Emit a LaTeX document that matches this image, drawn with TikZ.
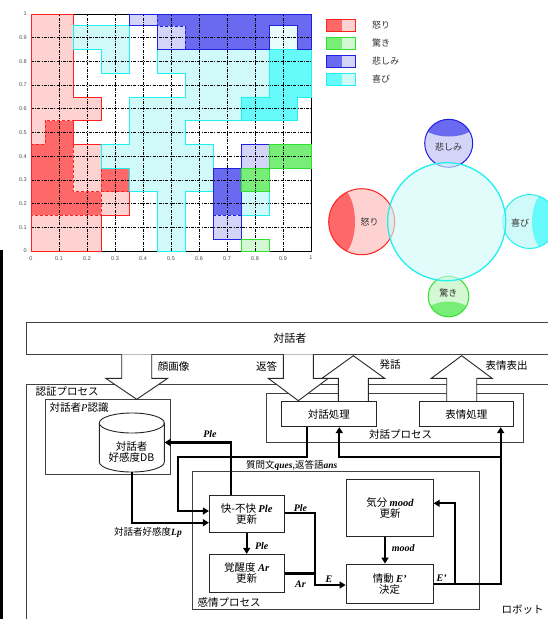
\documentclass[tikz,border=0pt]{standalone}
\usepackage{fontspec}
\setmainfont{Liberation Serif}
\newfontfamily\jp{Noto Sans CJK JP}
\newfontfamily\lsans{Liberation Sans}
\usetikzlibrary{arrows.meta}
\definecolor{rD}{HTML}{FF6868}
\definecolor{rL}{HTML}{FFD2D2}
\definecolor{bD}{HTML}{6A6AF0}
\definecolor{bL}{HTML}{D4D4F8}
\definecolor{cD}{HTML}{66FAFA}
\definecolor{cL}{HTML}{D0FAFA}
\definecolor{gD}{HTML}{78EE78}
\definecolor{gL}{HTML}{D4F8D4}
\definecolor{rO}{HTML}{FF2020}
\definecolor{bO}{HTML}{2020E0}
\definecolor{cO}{HTML}{20F0F0}
\definecolor{gO}{HTML}{30E030}
\begin{document}
\begin{tikzpicture}[x=1pt,y=-1pt,
  gridl/.style={black, line width=0.7pt, dash pattern=on 3pt off 1.2pt on 1pt off 1.2pt},
  ticklbl/.style={font=\lsans\fontsize{5.5}{6}\selectfont, text=black!70, inner sep=0pt},
  jlbl/.style={font=\jp\fontsize{10.5}{12}\selectfont, inner sep=0pt},
  slbl/.style={font=\jp\fontsize{9}{10}\selectfont, inner sep=0pt, text=black!80},
  ilbl/.style={font=\bfseries\itshape\fontsize{10}{11}\selectfont, inner sep=0pt},
  frame/.style={draw=black!75, line width=0.9pt, rectangle, inner sep=0pt},
  box/.style={draw=black!85, line width=0.9pt, rectangle, inner sep=0pt, align=center,
    font=\jp\fontsize{10.5}{11}\selectfont},
  conn/.style={line width=2.2pt, -{Triangle[length=6pt,width=7pt]}},
  line/.style={line width=2.2pt},
  bigarr/.style={draw=black!85, fill=white, line width=0.9pt, line join=miter}]
\useasboundingbox (0,0) rectangle (548,619);
\fill[white] (0,0) rectangle (548,619);
\fill[black] (0,250) rectangle (2.7,619);

% ---------------- chart ----------------
\begin{scope}[shift={(31,251)}, x=280pt, y=237pt]
  % red
  \fill[rL] (0,1) -- (0.15,1) -- (0.15,0.65) -- (0.25,0.65) -- (0.25,0.55) -- (0.15,0.55) -- (0.15,0.45) -- (0.25,0.45) -- (0.25,0.35) -- (0.35,0.35) -- (0.35,0.15) -- (0.25,0.15) -- (0.25,0) -- (0,0) -- cycle;
  \fill[rD] (0,0.15) rectangle (0.15,0.45);
  \fill[rD] (0.05,0.45) rectangle (0.15,0.55);
  \fill[rD] (0.15,0.15) rectangle (0.25,0.25);
  \fill[rD] (0.25,0.25) rectangle (0.35,0.35);
  % cyan
  \fill[cL] (0.15,0.95) -- (0.35,0.95) -- (0.35,0.75) -- (0.25,0.75) -- (0.25,0.85) -- (0.15,0.85) -- cycle;
  \fill[cL] (0.45,0.85) -- (1,0.85) -- (1,0.65) -- (0.95,0.65) -- (0.95,0.55) -- (0.55,0.55) -- (0.55,0.45) -- (0.65,0.45) -- (0.65,0.25) -- (0.55,0.25) -- (0.55,0) -- (0.45,0) -- (0.45,0.25) -- (0.35,0.25) -- (0.35,0.35) -- (0.25,0.35) -- (0.25,0.45) -- (0.35,0.45) -- (0.35,0.65) -- (0.55,0.65) -- (0.55,0.75) -- (0.45,0.75) -- cycle;
  \fill[cD] (0.85,0.85) -- (1,0.85) -- (1,0.65) -- (0.95,0.65) -- (0.95,0.55) -- (0.75,0.55) -- (0.75,0.65) -- (0.85,0.65) -- cycle;
  \fill[cL] (0.75,0.15) rectangle (0.85,0.25);
  \fill[cL!50] (0.85,0.85) rectangle (0.95,0.95);
  % blue
  \fill[bD] (0.45,1) -- (1,1) -- (1,0.85) -- (0.95,0.85) -- (0.95,0.95) -- (0.85,0.95) -- (0.85,0.85) -- (0.55,0.85) -- (0.55,0.95) -- (0.45,0.95) -- cycle;
  \fill[bL] (0.35,0.95) rectangle (0.45,1);
  \fill[bL] (0.45,0.85) rectangle (0.55,0.95);
  \fill[bD] (0.65,0.15) rectangle (0.75,0.35);
  \fill[bL] (0.65,0.05) rectangle (0.75,0.15);
  \fill[bL] (0.75,0.35) rectangle (0.85,0.45);
  % green
  \fill[gD] (0.85,0.35) rectangle (1,0.45);
  \fill[gD] (0.75,0.25) rectangle (0.85,0.35);
  \fill[gL] (0.75,0) rectangle (0.85,0.05);
  % frame and grid
  \draw[black, line width=0.8pt] (0,0) rectangle (1,1);
  \foreach \i in {1,...,9} {
    \draw[gridl] (\i/10,0) -- (\i/10,1);
    \draw[gridl] (0,\i/10) -- (1,\i/10);
  }
  % outlines
  \draw[rO, line width=0.9pt] (0,1) -- (0.15,1) -- (0.15,0.65) -- (0.25,0.65) -- (0.25,0.55) -- (0.15,0.55) -- (0.15,0.45) -- (0.25,0.45) -- (0.25,0.35) -- (0.35,0.35) -- (0.35,0.15) -- (0.25,0.15) -- (0.25,0) -- (0,0) -- cycle;
  \draw[rO, line width=0.7pt, densely dashed] (0,0.45) -- (0.05,0.45) -- (0.05,0.55) -- (0.15,0.55) -- (0.15,0.25) -- (0.25,0.25) -- (0.25,0.35) -- (0.35,0.35) -- (0.35,0.25) -- (0.25,0.25) -- (0.25,0.15) -- (0,0.15);
  \draw[cO, line width=0.9pt] (0.15,0.95) -- (0.35,0.95) -- (0.35,0.75) -- (0.25,0.75) -- (0.25,0.85) -- (0.15,0.85) -- cycle;
  \draw[cO, line width=0.9pt] (0.45,0.85) -- (1,0.85) -- (1,0.65) -- (0.95,0.65) -- (0.95,0.55) -- (0.55,0.55) -- (0.55,0.45) -- (0.65,0.45) -- (0.65,0.25) -- (0.55,0.25) -- (0.55,0) -- (0.45,0) -- (0.45,0.25) -- (0.35,0.25) -- (0.35,0.35) -- (0.25,0.35) -- (0.25,0.45) -- (0.35,0.45) -- (0.35,0.65) -- (0.55,0.65) -- (0.55,0.75) -- (0.45,0.75) -- cycle;
  \draw[cO, line width=0.7pt] (0.85,0.85) -- (0.85,0.65) -- (0.75,0.65) -- (0.75,0.55);
  \draw[cO, line width=0.9pt] (0.75,0.15) rectangle (0.85,0.25);
  \draw[cO, line width=0.9pt] (0.85,0.85) rectangle (0.95,0.95);
  \draw[bO, line width=0.9pt] (0.35,1) -- (1,1) -- (1,0.85) -- (0.95,0.85) -- (0.95,0.95) -- (0.85,0.95) -- (0.85,0.85) -- (0.45,0.85) -- (0.45,0.95) -- (0.35,0.95) -- cycle;
  \draw[bO, line width=0.7pt, densely dashed] (0.45,1) -- (0.45,0.95) -- (0.55,0.95) -- (0.55,0.85);
  \draw[bO, line width=0.9pt] (0.65,0.05) rectangle (0.75,0.35);
  \draw[bO, line width=0.7pt, densely dashed] (0.65,0.15) -- (0.75,0.15);
  \draw[bO, line width=0.9pt] (0.75,0.35) rectangle (0.85,0.45);
  \draw[gO, line width=0.9pt] (0.85,0.35) rectangle (1,0.45);
  \draw[gO, line width=0.9pt] (0.75,0.25) rectangle (0.85,0.35);
  \draw[gO, line width=0.9pt] (0.75,0) rectangle (0.85,0.05);
  % tick labels
  \foreach \i/\t in {0/0,1/0.1,2/0.2,3/0.3,4/0.4,5/0.5,6/0.6,7/0.7,8/0.8,9/0.9,10/1} {
    \node[ticklbl, anchor=north] (xt\i) at (\i/10,0) [yshift=-5pt] {\t};
    \node[ticklbl, anchor=east] (yt\i) at (0,\i/10) [xshift=-4pt] {\t};
  }
\end{scope}

% ---------------- legend ----------------
\foreach \k/\cd/\cl/\co/\t in {0/rD/rL/rO/怒り,1/gD/gL/gO/驚き,2/bD/bL/bO/悲しみ,3/cD/cL/cO/喜び} {
  \fill[\cd] (326.7,{19+18*\k}) rectangle (341.5,{31+18*\k});
  \fill[\cl] (341.5,{19+18*\k}) rectangle (355.7,{31+18*\k});
  \draw[\co, line width=0.9pt] (326.7,{19+18*\k}) rectangle (355.7,{31+18*\k});
  \node[slbl, anchor=west] (leg\k) at (372,{25.3+18*\k}) {\t};
}

% ---------------- circles ----------------
\begin{scope}
  \clip (361.7,221.7) circle[radius=33pt];
  \fill[rL] (320,180) rectangle (400,260);
  \fill[rD] (337,221.7) ellipse[x radius=18pt, y radius=36pt];
\end{scope}
\draw[rO, line width=1pt] (361.7,221.7) circle[radius=33pt];
\begin{scope}
  \clip (448.7,143.3) circle[radius=24pt];
  \fill[bL] (420,115) rectangle (478,172);
  \fill[bD] (448.7,123.5) ellipse[x radius=27pt, y radius=13pt];
\end{scope}
\draw[bO, line width=1pt] (448.7,143.3) circle[radius=24pt];
\begin{scope}
  \clip (448.5,296.5) circle[radius=20.3pt];
  \fill[gL] (425,272) rectangle (472,320);
  \fill[gD] (448.5,314) ellipse[x radius=23pt, y radius=12.5pt];
\end{scope}
\draw[gO, line width=1pt] (448.5,296.5) circle[radius=20.3pt];
\begin{scope}
  \clip (529.7,221.5) circle[radius=27pt];
  \fill[cL] (500,190) rectangle (560,252);
  \fill[cD] (546,221.5) ellipse[x radius=14pt, y radius=29pt];
\end{scope}
\draw[cO, line width=1pt] (529.7,221.5) circle[radius=27pt];
\fill[cL, fill opacity=0.6] (446.7,221.7) circle[radius=59pt];
\draw[cO, line width=1.3pt] (446.7,221.7) circle[radius=59pt];
\node[slbl] (ckanashi) at (448.5,146.5) {悲しみ};
\node[slbl] (cikari) at (369.5,222) {怒り};
\node[slbl] (cyorokobi) at (520,222.7) {喜び};
\node[slbl] (codoroki) at (448.3,293.3) {驚き};

% ---------------- lower diagram ----------------
\node[frame, minimum width=526.4pt, minimum height=246pt] (robot) at (289.9,507) {};
\node[frame, minimum width=526.4pt, minimum height=31.6pt, font=\jp\fontsize{11}{12}\selectfont] (talker) at (289.9,338.5) {対話者};
\node[frame, minimum width=125pt, minimum height=75pt] (pbox) at (108.2,436.8) {};
\node[frame, minimum width=256.6pt, minimum height=49.4pt] (dproc) at (395,418) {};
\node[frame, minimum width=286.7pt, minimum height=137.6pt] (eproc) at (335.7,540.5) {};

\node[jlbl, anchor=west] (lninsho) at (35.5,391.3) {認証プロセス};
\node[jlbl, anchor=west] (lpbox) at (49.5,408) {対話者{\rmfamily\itshape P}認識};
\node[jlbl] (ldproc) at (400.5,434.3) {対話プロセス};
\node[jlbl] (leproc) at (229,602.7) {感情プロセス};
\node[jlbl] (lrobot) at (522.7,610) {ロボット};

% big arrows
\draw[bigarr] (121.7,354.3) -- (121.7,378.3) -- (105.7,378.3) -- (136.7,399.3) -- (167.7,378.3) -- (151.7,378.3) -- (151.7,354.3);
\draw[bigarr] (283.3,354.3) -- (283.3,378.3) -- (268.3,378.3) -- (298.3,400.7) -- (328.3,378.3) -- (313.3,378.3) -- (313.3,354.3);
\draw[bigarr] (338.3,401.7) -- (338.3,378.3) -- (322,378.3) -- (353.3,355.7) -- (384.6,378.3) -- (368.3,378.3) -- (368.3,401.7);
\draw[bigarr] (446.7,401.7) -- (446.7,378.3) -- (431.3,378.3) -- (461.7,355.7) -- (492.1,378.3) -- (476.7,378.3) -- (476.7,401.7);
\node[jlbl] (lface) at (173.5,366.7) {顔画像};
\node[jlbl] (lhento) at (266.5,366.7) {返答};
\node[jlbl] (lhatsuwa) at (390,364.3) {発話};
\node[jlbl] (lhyojo) at (506.7,365.7) {表情表出};

% processing boxes
\node[box, fill=white, minimum width=94.3pt, minimum height=25pt] (dlg) at (328.8,414.2) {対話処理};
\node[box, fill=white, minimum width=94pt, minimum height=25pt] (face) at (466.3,414.2) {表情処理};
\node[box, minimum width=74.7pt, minimum height=37.7pt] (ple) at (246.7,513.9) {快-不快 {\rmfamily\bfseries\itshape Ple}\\更新};
\node[box, minimum width=74.7pt, minimum height=38.4pt] (ar) at (246.7,573.5) {覚醒度 {\rmfamily\bfseries\itshape Ar}\\更新};
\node[box, minimum width=86.5pt, minimum height=57.4pt] (mood) at (390,508) {気分 {\rmfamily\bfseries\itshape mood}\\更新};
\node[box, minimum width=87.3pt, minimum height=39.3pt] (emo) at (389.7,583.7) {情動 {\rmfamily\bfseries\itshape E'}\\決定};

% database cylinder
\node[minimum width=65pt, minimum height=59pt, inner sep=0pt] (db) at (131.8,442.5) {};
\draw[black!85, line width=0.9pt, fill=white] (99.3,423) -- (99.3,462) arc[start angle=180, end angle=360, x radius=32.5pt, y radius=10pt] -- (164.3,423);
\draw[black!85, line width=0.9pt] (131.8,423) ellipse[x radius=32.5pt, y radius=10pt];
\node[box, draw=none] (dbtext) at (131.5,452.5) {対話者\\好感度DB};

% connectors
\coordinate (q1) at (178.3,457.3);
\coordinate (j1) at (315,573.5);
\coordinate (j2) at (455,583.7);
\coordinate (j3) at (500.7,456.7);
\draw[conn] ([xshift=-15.7pt]ple.north) |- (db.east);
\draw[conn] ([xshift=-22.1pt]dlg.south) |- (q1) |- ([yshift=2.9pt]ple.west);
\draw[conn] (db.south) |- ([yshift=-8.8pt]ple.west);
\draw[conn] (ple.south) -- (ar.north);
\draw[conn] ([yshift=1.2pt]ple.east) -| (j1) |- ([yshift=-1.3pt]emo.west);
\draw[line] (ar.east) -- (j1);
\draw[conn] ([xshift=-5pt]mood.south) -- ([xshift=-4.7pt]emo.north);
\draw[conn] (emo.east) -- (j2) |- ([yshift=4.7pt]mood.east);
\draw[conn] (j2) -| ([xshift=34.4pt]face.south);
\draw[conn] (j3) -| ([xshift=10.5pt]dlg.south);

% connector labels
\node[ilbl] (lple1) at (210,434.5) {Ple};
\node[jlbl, font=\jp\fontsize{9.5}{10}\selectfont] (lques) at (291.7,465) {質問文{\rmfamily\bfseries\itshape ques},返答語{\rmfamily\bfseries\itshape ans}};
\node[jlbl, font=\jp\fontsize{9.5}{10}\selectfont] (llp) at (148,532.3) {対話者好感度{\rmfamily\bfseries\itshape Lp}};
\node[ilbl] (lple2) at (261.7,546) {Ple};
\node[ilbl] (lple3) at (300.5,507.7) {Ple};
\node[ilbl] (lE) at (329,579.3) {E};
\node[ilbl] (lAr) at (300.5,584) {Ar};
\node[ilbl] (lmood) at (403.3,547.7) {mood};
\node[ilbl] (lEp) at (441.7,578.3) {E'};
\end{tikzpicture}
\end{document}
